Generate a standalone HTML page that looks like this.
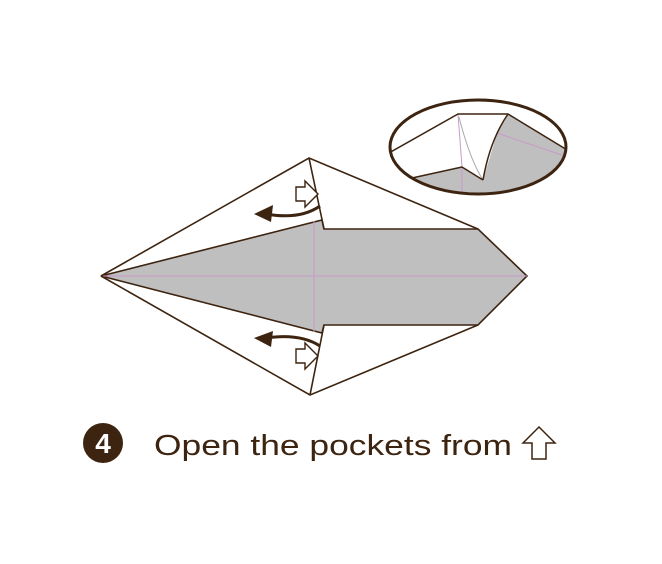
<!DOCTYPE html>
<html><head><meta charset="utf-8"><style>
html,body{margin:0;padding:0;background:#fff;width:662px;height:564px;overflow:hidden}
svg{display:block}
</style></head><body>
<svg width="662" height="564" viewBox="0 0 662 564">
<defs><clipPath id="ec"><ellipse cx="478" cy="147" rx="88" ry="47"/></clipPath></defs>
<g stroke="#3d2410" stroke-width="1.6" stroke-linejoin="miter">
<polygon points="101,276 309,158 478,229 527,276 478,325 310,395" fill="#fff" stroke="none"/>
<polygon points="101,276 322,220 324,229 478,229 527,276 478,325 324,325 322,333" fill="#bfbfbf"/>
<line x1="101" y1="276" x2="527" y2="276" stroke="#c99ac9" stroke-width="1"/>
<line x1="314" y1="221" x2="314" y2="332" stroke="#c99ac9" stroke-width="1"/>
<polyline fill="none" points="101,276 309,158 478,229"/>
<polyline fill="none" points="101,276 310,395 478,325"/>
<line x1="309" y1="158" x2="324" y2="229"/>
<line x1="310" y1="395" x2="324" y2="325"/>
</g>
<g fill="none" stroke="#3d2410">
<path d="M320,206 Q300,220 266,214" stroke-width="3"/>
<polygon points="254,214 273,205 271,222" fill="#3d2410" stroke="none"/>
<polygon points="296,187 305,187 305,181 318,194 305,207 305,201 296,201" fill="#fff" stroke-width="1.4"/>
</g>
<g fill="none" stroke="#3d2410">
<path d="M320,346 Q300,333 266,338" stroke-width="3"/>
<polygon points="254,338 273,331 271,347" fill="#3d2410" stroke="none"/>
<polygon points="296,349 305,349 305,343 318,356 305,369 305,363 296,363" fill="#fff" stroke-width="1.4"/>
</g>
<g>
<ellipse cx="478" cy="147" rx="88" ry="47" fill="#fff"/>
<g clip-path="url(#ec)" stroke="#3d2410" stroke-width="1.5">
<polygon points="458,167 600,150 600,220 380,220 380,185" fill="#bfbfbf" stroke="none"/>
<polygon points="508,114 600,170 600,220 470,220 483,180 497,133" fill="#bfbfbf" stroke="none"/>
<polygon points="458,114 508,114 497,133 483,180 462,167" fill="#fff" stroke="none"/>
<line x1="497" y1="133" x2="600" y2="168" stroke="#c99ac9" stroke-width="1"/>
<line x1="462" y1="167" x2="462" y2="220" stroke="#c99ac9" stroke-width="1"/>
<line x1="458" y1="114" x2="462" y2="167" stroke="#c99ac9" stroke-width="1"/>
<path d="M459,117 Q470,160 483,180" fill="none" stroke="#aaa" stroke-width="1"/>
<polyline fill="none" points="380,158 458,114 508,114 600,170"/>
<path d="M508,114 Q490,140 483,180" fill="none"/>
<polyline fill="none" points="380,185 462,167 483,180"/>
</g>
<ellipse cx="478" cy="147" rx="88" ry="47" fill="none" stroke="#3d2410" stroke-width="3"/>
</g>
<g>
<circle cx="103" cy="443" r="20" fill="#3d2410"/>
<text x="103" y="453" text-anchor="middle" font-family="Liberation Sans, sans-serif" font-weight="bold" font-size="28" fill="#fff">4</text>
<text x="154" y="455" font-family="Liberation Sans, sans-serif" font-size="29" fill="#3d2410" textLength="358" lengthAdjust="spacingAndGlyphs">Open the pockets from</text>
<polygon points="539,427 555,443 546,443 546,459 532,459 532,443 523,443" fill="#fff" stroke="#3d2410" stroke-width="1.5"/>
</g>
</svg>
</body></html>
